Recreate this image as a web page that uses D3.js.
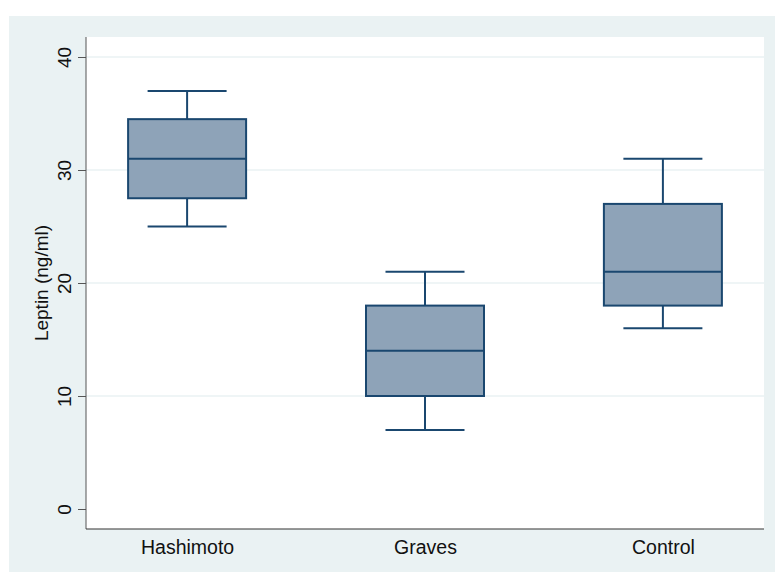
<!DOCTYPE html>
<html>
<head>
<meta charset="utf-8">
<script src="https://cdn.jsdelivr.net/npm/d3@7"></script>
<style>
  body { margin: 0; background: #fff; }
  text { font-family: "Liberation Sans", Arial, sans-serif; fill: #111; }
</style>
</head>
<body>
<svg width="775" height="572"></svg>
<script>
// données
const groups = ['Hashimoto', 'Graves', 'Control'];
const lowWhisker = [25, 7, 16];
const q1 = [27.5, 10, 18];
const median = [31, 14, 21];
const q3 = [34.5, 18, 27];
const highWhisker = [37, 21, 31];
const yTicks = [0, 10, 20, 30, 40];

const boxes = groups.map((g, i) => ({
  g, lo: lowWhisker[i], q1: q1[i], med: median[i], q3: q3[i], hi: highWhisker[i]
}));

const svg = d3.select('svg');
const plot = {left: 86, right: 764, top: 37, bottom: 529};

// fond extérieur
svg.append('rect')
  .attr('x', 9).attr('y', 16)
  .attr('width', 766).attr('height', 556)
  .attr('fill', '#eaf2f3');

svg.append('rect')
  .attr('x', plot.left).attr('y', plot.top)
  .attr('width', plot.right - plot.left).attr('height', plot.bottom - plot.top)
  .attr('fill', '#fff');

const y = d3.scaleLinear().domain([0, 40]).range([509, 57]);
const x = d3.scalePoint().domain(groups).range([plot.left, plot.right]).padding(0.425);

// grille
svg.append('g').selectAll('line')
  .data(yTicks.filter(t => t > 0))
  .join('line')
  .attr('x1', plot.left).attr('x2', plot.right)
  .attr('y1', d => y(d)).attr('y2', d => y(d))
  .attr('stroke', '#eaf2f3').attr('stroke-width', 1.5);

// axe y
const yAxis = svg.append('g')
  .attr('transform', `translate(${plot.left},0)`)
  .call(d3.axisLeft(y).tickValues(yTicks).tickSize(8).tickPadding(0).tickFormat(d3.format('d')));
yAxis.select('.domain').remove();
yAxis.selectAll('.tick line').attr('stroke', '#555');
yAxis.selectAll('.tick text')
  .attr('transform', 'rotate(-90)')
  .attr('x', 0).attr('y', -15)
  .attr('dy', 0)
  .attr('text-anchor', 'middle')
  .style('font-size', '19px')
  .style('font-family', '"Liberation Sans", Arial, sans-serif')
  .attr('fill', '#111');

svg.append('line')
  .attr('x1', plot.left).attr('x2', plot.left)
  .attr('y1', plot.top).attr('y2', plot.bottom)
  .attr('stroke', '#555').attr('stroke-width', 1);

// axe x
const xAxis = svg.append('g')
  .attr('transform', `translate(0,${plot.bottom})`)
  .call(d3.axisBottom(x).tickSize(0).tickPadding(0));
xAxis.select('.domain').remove();
xAxis.selectAll('.tick text')
  .attr('y', 25).attr('dy', 0)
  .style('font-size', '19.5px')
  .style('font-family', '"Liberation Sans", Arial, sans-serif')
  .attr('fill', '#111');

svg.append('line')
  .attr('x1', plot.left).attr('x2', plot.right)
  .attr('y1', plot.bottom).attr('y2', plot.bottom)
  .attr('stroke', '#333').attr('stroke-width', 1.2);

// titre y
svg.append('text')
  .attr('transform', `translate(48,${(plot.top + plot.bottom) / 2}) rotate(-90)`)
  .attr('text-anchor', 'middle')
  .style('font-size', '19px')
  .text('Leptin (ng/ml)');

// boîtes
const boxW = 118, capW = 79, navy = '#1a476f';
const gb = svg.append('g').selectAll('g').data(boxes).join('g');

gb.append('line')
  .attr('x1', d => x(d.g)).attr('x2', d => x(d.g))
  .attr('y1', d => y(d.hi)).attr('y2', d => y(d.q3))
  .attr('stroke', navy).attr('stroke-width', 2);
gb.append('line')
  .attr('x1', d => x(d.g)).attr('x2', d => x(d.g))
  .attr('y1', d => y(d.q1)).attr('y2', d => y(d.lo))
  .attr('stroke', navy).attr('stroke-width', 2);
gb.selectAll('.cap').data(d => [d.hi, d.lo].map(v => ({g: d.g, v}))).join('line')
  .attr('class', 'cap')
  .attr('x1', d => x(d.g) - capW / 2).attr('x2', d => x(d.g) + capW / 2)
  .attr('y1', d => y(d.v)).attr('y2', d => y(d.v))
  .attr('stroke', navy).attr('stroke-width', 2);
gb.append('rect')
  .attr('x', d => x(d.g) - boxW / 2)
  .attr('y', d => y(d.q3))
  .attr('width', boxW)
  .attr('height', d => y(d.q1) - y(d.q3))
  .attr('fill', '#8ea3b8')
  .attr('stroke', navy).attr('stroke-width', 2);
gb.append('line')
  .attr('x1', d => x(d.g) - boxW / 2).attr('x2', d => x(d.g) + boxW / 2)
  .attr('y1', d => y(d.med)).attr('y2', d => y(d.med))
  .attr('stroke', navy).attr('stroke-width', 2);
</script>
</body>
</html>
